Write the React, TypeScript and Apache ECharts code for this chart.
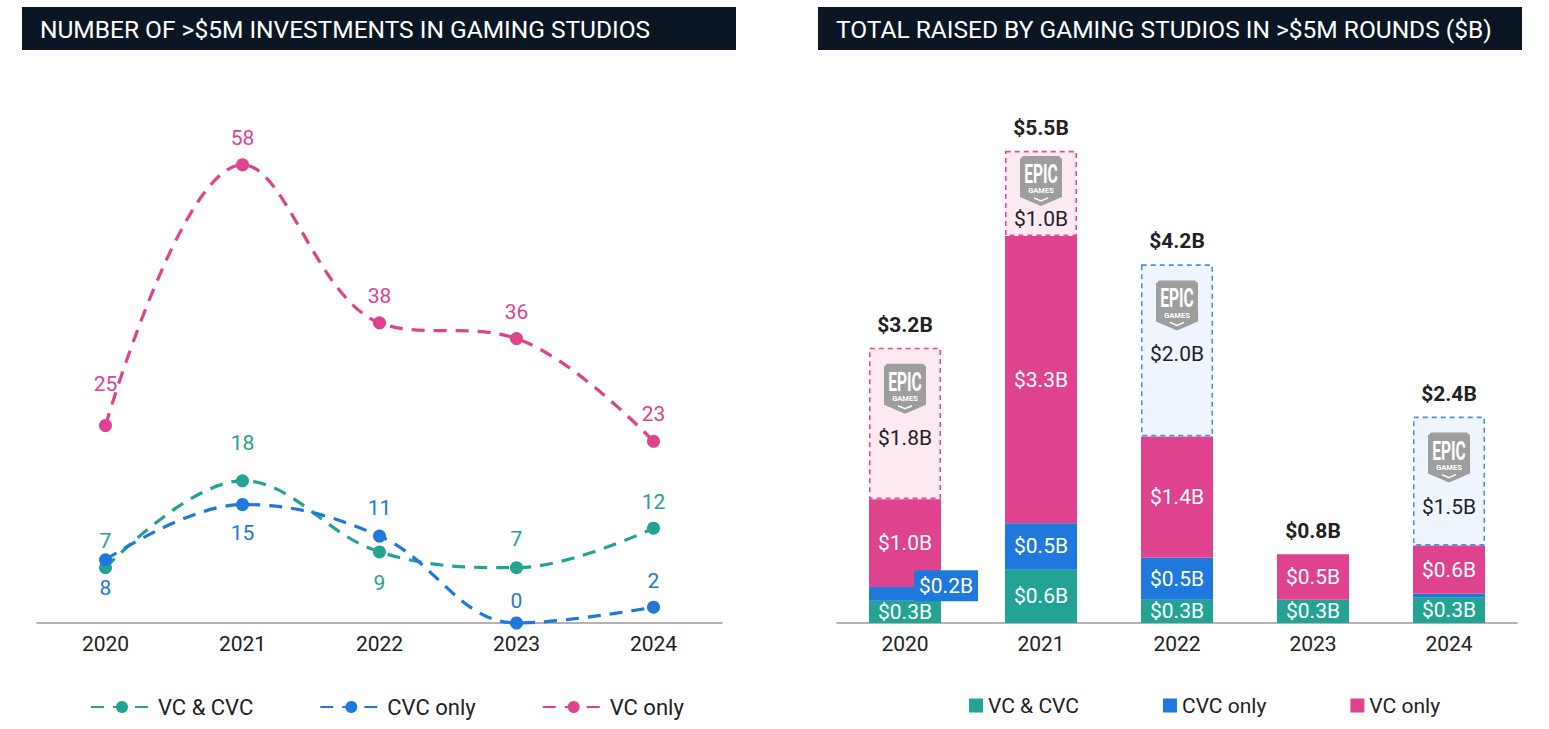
import React, { useEffect, useRef } from 'react';
import * as echarts from 'echarts';

// ---- Data ----
const years = ['2020', '2021', '2022', '2023', '2024'];
const seriesNames = ['VC & CVC', 'CVC only', 'VC only'];

// Number of >$5M investments
const dealsVcCvc = [7, 18, 9, 7, 12];
const dealsCvcOnly = [8, 15, 11, 0, 2];
const dealsVcOnly = [25, 58, 38, 36, 23];

// Total raised ($B)
const raisedVcCvc = [0.26, 0.62, 0.27, 0.27, 0.3];
const raisedCvcOnly = [0.16, 0.54, 0.49, 0, 0.04];
const raisedVcOnly = [1.02, 3.34, 1.41, 0.53, 0.56];
const raisedEpic = [1.76, 0.99, 2.0, 0, 1.5];
const epicInvestor = ['VC only', 'VC only', 'CVC only', '', 'CVC only'];

const leftTitle = 'NUMBER OF >$5M INVESTMENTS IN GAMING STUDIOS';
const rightTitle = 'TOTAL RAISED BY GAMING STUDIOS IN >$5M ROUNDS ($B)';

// ---- Styles ----
const FONT = 'Roboto, "Noto Sans", sans-serif';
const COLORS: Record<string, string> = {
  'VC & CVC': '#22a394',
  'CVC only': '#1f78dc',
  'VC only': '#df438e',
};

type Placement = { p: string; d: number };
const placements: Record<string, Placement[]> = {
  'VC & CVC': [
    { p: 'top', d: 10 }, { p: 'top', d: 21 }, { p: 'bottom', d: 14 }, { p: 'top', d: 12 }, { p: 'top', d: 9 },
  ],
  'CVC only': [
    { p: 'bottom', d: 11 }, { p: 'bottom', d: 11 }, { p: 'top', d: 11 }, { p: 'top', d: 5 }, { p: 'top', d: 9 },
  ],
  'VC only': [
    { p: 'top', d: 25 }, { p: 'top', d: 10 }, { p: 'top', d: 10 }, { p: 'top', d: 10 }, { p: 'top', d: 10 },
  ],
};

const fmtB = (v: number) => `$${v.toFixed(1)}B`;

function buildOption() {
  const dealSets = [dealsVcCvc, dealsCvcOnly, dealsVcOnly];
  const raisedSets = [raisedVcCvc, raisedCvcOnly, raisedVcOnly];

  const lineSeries = seriesNames.map((name, k) => {
    const color = COLORS[name];
    return {
      type: 'line',
      name,
      xAxisIndex: 0,
      yAxisIndex: 0,
      smooth: 0.38,
      clip: false,
      symbol: 'circle',
      symbolSize: 13,
      itemStyle: { color },
      lineStyle: { color, width: 3.2, type: [13, 9] },
      label: { show: true, color, fontSize: 21, fontFamily: FONT },
      data: dealSets[k].map((v, i) => ({
        value: v,
        label: { show: true, position: placements[name][i].p, distance: placements[name][i].d },
      })),
    };
  });

  const barBase = years.map((_, i) => raisedVcCvc[i] + raisedCvcOnly[i] + raisedVcOnly[i]);

  const barSeries = seriesNames.map((name, k) => {
    const color = COLORS[name];
    return {
      type: 'bar',
      name,
      xAxisIndex: 1,
      yAxisIndex: 1,
      stack: 'raised',
      barWidth: 72,
      itemStyle: { color },
      label: {
        show: true,
        position: 'inside',
        color: '#ffffff',
        fontSize: 21,
        fontFamily: FONT,
        formatter: (p: any) => (p.value >= 0.1 ? fmtB(p.value) : ''),
      },
      data: raisedSets[k].map((v) => {
        if (v >= 0.1 && v < 0.2) {
          return {
            value: v,
            label: {
              position: 'inside',
              offset: [41, -8],
              backgroundColor: color,
              padding: [5, 5],
            },
          };
        }
        return { value: v };
      }),
    };
  });

  const epicData = years.map((_, i) => [i, barBase[i], raisedEpic[i], barBase[i] + raisedEpic[i]]);

  const renderEpic = (params: any, api: any) => {
    const i = api.value(0) as number;
    const base = api.value(1) as number;
    const epic = api.value(2) as number;
    const total = api.value(3) as number;
    const top = api.coord([i, base + epic]);
    const bottom = api.coord([i, base]);
    const cx = top[0];
    const bw = 72;
    const children: any[] = [];
    if (epic > 0) {
      const h = bottom[1] - top[1];
      const isVc = epicInvestor[i] === 'VC only';
      const stroke = isVc ? '#e24c93' : '#4b8ee6';
      const fill = isVc ? '#fde9f2' : '#eff5fd';
      children.push({
        type: 'rect',
        shape: { x: cx - bw / 2 + 0.75, y: top[1] + 0.75, width: bw - 1.5, height: h - 1.5 },
        style: { fill, stroke, lineWidth: 1.6, lineDash: [5, 4] },
      });
      const ly = top[1] + Math.min(16, Math.max(4, (h - 75) / 2));
      children.push({
        type: 'polygon',
        shape: {
          points: [
            [cx - 21, ly + 3], [cx - 18, ly], [cx + 18, ly], [cx + 21, ly + 3],
            [cx + 21, ly + 41], [cx, ly + 50], [cx - 21, ly + 41],
          ],
        },
        style: { fill: '#9e9e9e' },
      });
      children.push({
        type: 'text',
        x: cx,
        y: ly + 18,
        scaleX: 0.6,
        style: {
          text: 'EPIC', x: 0, y: 0, align: 'center', verticalAlign: 'middle',
          fill: '#ffffff', fontSize: 26, fontWeight: 'bold', fontFamily: FONT,
        },
      });
      children.push({
        type: 'text',
        style: {
          text: 'GAMES', x: cx, y: ly + 35, align: 'center', verticalAlign: 'middle',
          fill: '#ffffff', fontSize: 7.5, fontWeight: 'bold', fontFamily: FONT,
        },
      });
      children.push({
        type: 'polyline',
        shape: { points: [[cx - 7, ly + 42], [cx, ly + 45], [cx + 7, ly + 42]] },
        style: { stroke: '#ffffff', lineWidth: 1.5, fill: null },
      });
      const labelY = ly + 50 + Math.min(24, h - (ly - top[1]) - 67);
      children.push({
        type: 'text',
        style: {
          text: fmtB(epic), x: cx, y: labelY, align: 'center', verticalAlign: 'middle',
          fill: '#222222', fontSize: 21, fontFamily: FONT,
        },
      });
    }
    children.push({
      type: 'text',
      style: {
        text: fmtB(total), x: cx, y: top[1] - 23, align: 'center', verticalAlign: 'middle',
        fill: '#222222', fontSize: 21, fontWeight: 'bold', fontFamily: FONT,
      },
    });
    return { type: 'group', children };
  };

  const axisCommon = {
    type: 'category',
    data: years,
    axisLine: { lineStyle: { color: '#9a9a9a', width: 1.5 } },
    axisTick: { show: false },
    axisLabel: { color: '#222222', fontSize: 21, fontFamily: FONT, margin: 10 },
  };

  return {
    animation: false,
    backgroundColor: '#ffffff',
    textStyle: { fontFamily: FONT },
    grid: [
      { left: 37, top: 149, width: 685, height: 474 },
      { left: 837, top: 107, width: 680, height: 516 },
    ],
    xAxis: [
      { ...axisCommon, gridIndex: 0 },
      { ...axisCommon, gridIndex: 1 },
    ],
    yAxis: [
      { type: 'value', gridIndex: 0, min: 0, max: 60, show: false },
      { type: 'value', gridIndex: 1, min: 0, max: 6, show: false },
    ],
    legend: [
      {
        data: seriesNames,
        left: 85,
        top: 691,
        itemWidth: 62,
        itemHeight: 15,
        itemGap: 66,
        selectedMode: false,
        textStyle: { color: '#222222', fontSize: 22, fontFamily: FONT },
      },
      {
        data: seriesNames,
        icon: 'rect',
        left: 964,
        top: 690,
        itemWidth: 14,
        itemHeight: 14,
        itemGap: 84,
        selectedMode: false,
        textStyle: { color: '#222222', fontSize: 21, fontFamily: FONT },
      },
    ],
    graphic: [
      { type: 'rect', shape: { x: 22, y: 7, width: 714, height: 43 }, style: { fill: '#0b1624' } },
      {
        type: 'text', x: 40, y: 29,
        style: { text: leftTitle, fill: '#ffffff', fontSize: 24.5, fontFamily: FONT, verticalAlign: 'middle' },
      },
      { type: 'rect', shape: { x: 818, y: 7, width: 704, height: 43 }, style: { fill: '#0b1624' } },
      {
        type: 'text', x: 836, y: 29,
        style: { text: rightTitle, fill: '#ffffff', fontSize: 24.5, fontFamily: FONT, verticalAlign: 'middle' },
      },
    ],
    series: [
      ...lineSeries,
      ...barSeries,
      {
        type: 'custom',
        name: 'Epic Games',
        xAxisIndex: 1,
        yAxisIndex: 1,
        silent: true,
        z: 5,
        renderItem: renderEpic,
        data: epicData,
      },
    ],
  };
}

export default function App() {
  const ref = useRef<HTMLDivElement>(null);
  useEffect(() => {
    if (!ref.current) return;
    const chart = echarts.init(ref.current, null, { renderer: 'svg' });
    chart.setOption(buildOption() as any);
    return () => chart.dispose();
  }, []);
  return (
    <div
      ref={ref}
      style={{ position: 'absolute', left: 0, top: 0, width: 1549, height: 729, background: '#fff' }}
    />
  );
}
